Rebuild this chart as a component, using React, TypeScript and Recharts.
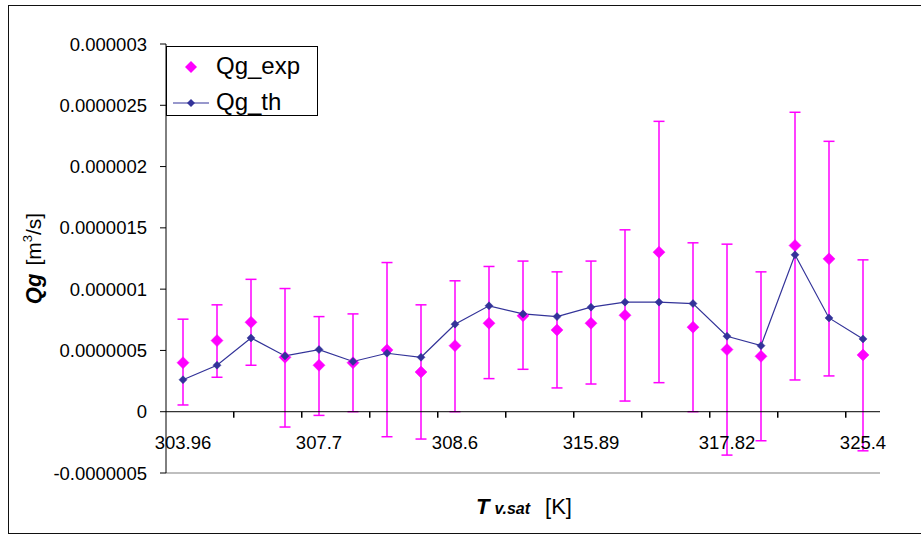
import React from 'react';
import { ComposedChart, Line, XAxis, YAxis, ErrorBar, ReferenceLine, Legend } from 'recharts';

// ---- data ----
const xTickLabels = [
  '303.96', '', '', '', '307.7', '', '', '', '308.6', '', '', '',
  '315.89', '', '', '', '317.82', '', '', '', '325.4',
];
const qgExp = [
  4.0e-7, 5.8e-7, 7.3e-7, 4.44e-7, 3.79e-7, 4.0e-7, 5.04e-7, 3.24e-7, 5.39e-7, 7.22e-7,
  7.82e-7, 6.67e-7, 7.22e-7, 7.87e-7, 1.302e-6, 6.9e-7, 5.07e-7, 4.52e-7, 1.356e-6, 1.247e-6, 4.63e-7,
];
const qgExpLow = [
  0.55e-7, 2.81e-7, 3.79e-7, -1.25e-7, -0.3e-7, 0, -2.04e-7, -2.23e-7, 0, 2.7e-7,
  3.46e-7, 1.94e-7, 2.26e-7, 0.87e-7, 2.37e-7, 0, -3.54e-7, -2.37e-7, 2.59e-7, 2.92e-7, -3.19e-7,
];
const qgExpHigh = [
  7.55e-7, 8.72e-7, 1.08e-6, 1.005e-6, 7.76e-7, 7.98e-7, 1.217e-6, 8.72e-7, 1.068e-6, 1.185e-6,
  1.229e-6, 1.141e-6, 1.229e-6, 1.484e-6, 2.369e-6, 1.378e-6, 1.367e-6, 1.141e-6, 2.443e-6, 2.206e-6, 1.239e-6,
];
const qgTh = [
  2.61e-7, 3.79e-7, 6.02e-7, 4.55e-7, 5.07e-7, 4.1e-7, 4.77e-7, 4.44e-7, 7.14e-7, 8.64e-7,
  7.98e-7, 7.76e-7, 8.53e-7, 8.94e-7, 8.94e-7, 8.82e-7, 6.16e-7, 5.39e-7, 1.28e-6, 7.65e-7, 5.94e-7,
];
const yTicks = [-0.0000005, 0, 0.0000005, 0.000001, 0.0000015, 0.000002, 0.0000025, 0.000003];
const seriesNames = ['Qg_exp', 'Qg_th'];

const data = qgExp.map((v, i) => ({
  idx: i,
  exp: v,
  expErr: [v - qgExpLow[i], qgExpHigh[i] - v],
  th: qgTh[i],
}));

// ---- layout ----
const W = 921;
const H = 534;
const PLOT_LEFT = 166;
const PLOT_RIGHT = 880;
const PLOT_TOP = 44;
const PLOT_BOTTOM = 473;
const Y_MIN = yTicks[0];
const Y_MAX = yTicks[yTicks.length - 1];
const Y0 = PLOT_TOP + ((Y_MAX - 0) / (Y_MAX - Y_MIN)) * (PLOT_BOTTOM - PLOT_TOP);
const BAND = (PLOT_RIGHT - PLOT_LEFT) / data.length;

const FONT = '"Liberation Sans", Arial, Helvetica, sans-serif';
const MAGENTA = '#FF00FF';
const NAVY = '#333399';

const fmtY = (v: number) => {
  if (Math.abs(v) < 1e-12) return '0';
  let s = v.toFixed(7);
  s = s.replace(/0+$/, '').replace(/\.$/, '');
  return s;
};

const Diamond = (r: number, color: string) => (props: any) => {
  const { cx, cy } = props;
  if (cx == null || cy == null) return <g />;
  return (
    <path
      d={`M${cx},${cy - r} L${cx + r},${cy} L${cx},${cy + r} L${cx - r},${cy} Z`}
      fill={color}
      stroke={color}
      strokeWidth={0.5}
    />
  );
};

const XTick = (props: any) => {
  const { x, payload } = props;
  const i = Number(payload.value);
  const label = xTickLabels[i];
  if (!label) return <g />;
  return (
    <text x={x} y={Y0 + 37} textAnchor="middle" fontFamily={FONT} fontSize={18.5} fill="#000">
      {label}
    </text>
  );
};

const XTitle = (props: any) => {
  const vb = props.viewBox || { x: PLOT_LEFT, y: PLOT_BOTTOM, width: PLOT_RIGHT - PLOT_LEFT };
  const cx = vb.x + vb.width / 2 + 1;
  return (
    <text x={cx} y={vb.y + 41} textAnchor="middle" fontFamily={FONT} fill="#000">
      <tspan fontSize={22} fontWeight="bold" fontStyle="italic">T</tspan>
      <tspan fontSize={16} fontWeight="bold" fontStyle="italic" dx={5}>v.sat</tspan>
      <tspan fontSize={22} dx={15}>[K]</tspan>
    </text>
  );
};

const YTitle = (props: any) => {
  const vb = props.viewBox || { x: 0, y: PLOT_TOP, height: PLOT_BOTTOM - PLOT_TOP };
  const x = 41;
  const y = vb.y + vb.height / 2;
  return (
    <text
      x={x}
      y={y}
      transform={`rotate(-90, ${x}, ${y})`}
      textAnchor="middle"
      fontFamily={FONT}
      fill="#000"
    >
      <tspan fontSize={22} fontWeight="bold" fontStyle="italic">Qg</tspan>
      <tspan fontSize={21} dx={8}>[m</tspan>
      <tspan fontSize={13} dy={-9}>3</tspan>
      <tspan fontSize={21} dy={9}>/s]</tspan>
    </text>
  );
};

// tick marks on the zero line, every second category boundary
const ZeroTicks = (props: any) => {
  const vb = props.viewBox || {};
  const left = vb.x != null ? vb.x : PLOT_LEFT;
  const y = vb.y != null ? vb.y : Y0;
  const marks = data.filter((d) => d.idx % 2 === 0 && d.idx > 0).map((d) => left + d.idx * BAND);
  return (
    <g>
      {marks.map((mx, k) => (
        <rect key={k} x={Math.round(mx) - 1} y={y} width={1.5} height={6} fill="#000" />
      ))}
    </g>
  );
};

const LegendBox = () => (
  <svg width={152} height={70} style={{ display: 'block' }}>
    <rect x={0.5} y={0.5} width={151} height={69} fill="#fff" stroke="#000" strokeWidth={1} />
    <path d="M25,15 L31,21 L25,27 L19,21 Z" fill={MAGENTA} />
    <text x={50} y={28} fontFamily={FONT} fontSize={24} fill="#000">{seriesNames[0]}</text>
    <line x1={7} x2={43} y1={57} y2={57} stroke={NAVY} strokeWidth={1.2} />
    <path d="M25,53 L29,57 L25,61 L21,57 Z" fill={NAVY} />
    <text x={50} y={64} fontFamily={FONT} fontSize={24} fill="#000">{seriesNames[1]}</text>
  </svg>
);

export default function App() {
  return (
    <div
      style={{
        position: 'absolute',
        left: 0,
        top: 0,
        width: W,
        height: H,
        overflow: 'hidden',
        background: '#fff',
      }}
    >
      <div
        style={{
          position: 'absolute',
          left: 8,
          top: 5,
          width: 940,
          height: 529,
          border: '1.5px solid #111',
          boxSizing: 'border-box',
        }}
      />
      <div style={{ position: 'absolute', left: 0, top: 0 }}>
        <ComposedChart
          width={W}
          height={H}
          data={data}
          margin={{ top: PLOT_TOP, right: W - PLOT_RIGHT, bottom: 0, left: 0 }}
        >
          <XAxis
            dataKey="idx"
            type="category"
            scale="band"
            interval={0}
            height={H - PLOT_BOTTOM}
            axisLine={{ stroke: '#808080', strokeWidth: 1.2 }}
            tickLine={false}
            tick={<XTick />}
            label={{ content: <XTitle /> } as any}
          />
          <XAxis
            xAxisId="top"
            dataKey="idx"
            type="category"
            scale="band"
            orientation="top"
            height={0}
            tick={false}
            tickLine={false}
            axisLine={{ stroke: '#808080', strokeWidth: 1.2 }}
          />
          <YAxis
            type="number"
            domain={[Y_MIN, Y_MAX]}
            ticks={yTicks}
            interval={0}
            width={PLOT_LEFT}
            tickFormatter={fmtY}
            tickSize={6}
            tickMargin={13}
            axisLine={{ stroke: '#000', strokeWidth: 1 }}
            tickLine={{ stroke: '#000', strokeWidth: 1 }}
            tick={{ fill: '#000', fontSize: 18.5, fontFamily: FONT }}
            label={{ content: <YTitle /> } as any}
          />
          <YAxis
            yAxisId="right"
            orientation="right"
            type="number"
            domain={[Y_MIN, Y_MAX]}
            width={0}
            tick={false}
            tickLine={false}
            axisLine={{ stroke: '#808080', strokeWidth: 1.2 }}
          />
          <Legend
            layout="horizontal"
            verticalAlign="middle"
            align="center"
            width={152}
            height={70}
            wrapperStyle={{ left: PLOT_LEFT, top: PLOT_TOP + 2, width: 152, height: 70 }}
            content={<LegendBox />}
          />
          <Line
            dataKey="exp"
            name={seriesNames[0]}
            stroke="none"
            dot={Diamond(6, MAGENTA)}
            activeDot={false}
            isAnimationActive={false}
          >
            <ErrorBar dataKey="expErr" direction="y" width={5.5} stroke={MAGENTA} strokeWidth={1.5} />
          </Line>
          <Line
            dataKey="th"
            name={seriesNames[1]}
            stroke={NAVY}
            strokeWidth={1.2}
            dot={Diamond(4, NAVY)}
            activeDot={false}
            isAnimationActive={false}
          />
          <ReferenceLine y={0} stroke="#000" strokeWidth={1} label={<ZeroTicks />} />
        </ComposedChart>
      </div>
    </div>
  );
}
